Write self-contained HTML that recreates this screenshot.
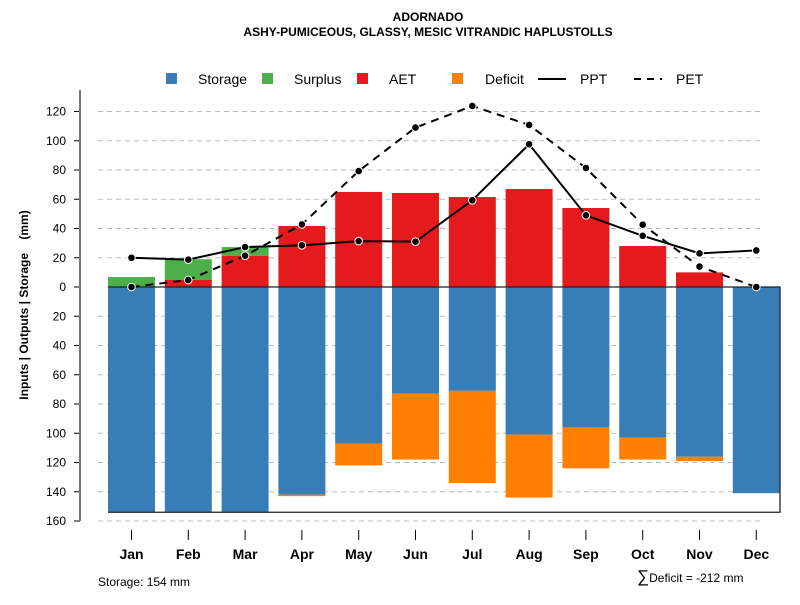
<!DOCTYPE html>
<html><head><meta charset="utf-8"><style>
body{margin:0;background:#fff;font-family:"Liberation Sans",sans-serif}
svg text{font-family:"Liberation Sans",sans-serif}
</style></head><body>
<svg id="c" width="800" height="600" xmlns="http://www.w3.org/2000/svg">
<text x="428" y="21" text-anchor="middle" font-size="12" font-weight="bold">ADORNADO</text>
<text x="428" y="36" text-anchor="middle" font-size="12" font-weight="bold">ASHY-PUMICEOUS, GLASSY, MESIC VITRANDIC HAPLUSTOLLS</text>
<text transform="translate(28,305) rotate(-90)" text-anchor="middle" font-size="12" font-weight="bold" style="white-space:pre">Inputs | Outputs | Storage    (mm)</text>
<g font-size="14">
<g><rect x="166" y="73" width="11" height="11" fill="#377eb8"/><text x="198" y="84">Storage</text></g>
<g><rect x="262" y="73" width="11" height="11" fill="#4daf4a"/><text x="294" y="84">Surplus</text></g>
<g><rect x="357" y="73" width="11" height="11" fill="#e41a1c"/><text x="389" y="84">AET</text></g>
<g><rect x="452" y="73" width="11" height="11" fill="#ff7f00"/><text x="485" y="84">Deficit</text></g>
<g><line x1="538" y1="79" x2="566" y2="79" stroke="#000" stroke-width="2"/><text x="580" y="84">PPT</text></g>
<g><line x1="634" y1="79" x2="662" y2="79" stroke="#000" stroke-width="2" stroke-dasharray="7,6"/><text x="676" y="84">PET</text></g>
</g>
<g id="grid"></g><g id="bars"></g><g id="axes"></g><g id="lines"></g>
<text x="98" y="586" font-size="12">Storage: 154 mm</text>
<text x="637" y="582" font-size="12"><tspan font-size="17">∑</tspan>Deficit = -212 mm</text>
</svg>
<script>
const months=["Jan","Feb","Mar","Apr","May","Jun","Jul","Aug","Sep","Oct","Nov","Dec"];
const storage=[154,154,154,142,107,73,71,101,96,103,116,141];
const deficit=[0,0,0,1,15,45,63,43,28,15,3,0];
const aet=[0,4.8,21.4,41.7,65,64.3,61.5,67,54,28,10,0];
const surplus=[6.8,14.2,5.9,0,0,0,0,0,0,0,0,0];
const ppt=[20,18.7,27.3,28.5,31.4,31,59.3,97.6,49,35,23,25];
const pet=[0,4.8,21.4,42.8,79.3,109,123.8,110.8,81.4,42.6,14,0];
const yTicks=[120,100,80,60,40,20,0,-20,-40,-60,-80,-100,-120,-140,-160];
const NS="http://www.w3.org/2000/svg";
const Y=v=>287-v*1.4625, X=i=>131.5+i*56.8, BW=47;
function mk(p,t,a){const e=document.createElementNS(NS,t);for(const k in a)e.setAttribute(k,a[k]);document.getElementById(p).appendChild(e);return e;}
yTicks.forEach(t=>{
 if(t!==0){const g=mk('grid','line',{x1:98,x2:762,y1:Y(t),y2:Y(t),stroke:'#bbb','stroke-dasharray':'5,4'});
 
 }
 const tk=mk('axes','line',{x1:74,x2:80,y1:Y(t),y2:Y(t),stroke:'#000'});
 
 
 const tl=mk('axes','text',{x:66,y:Y(t)+4,'text-anchor':'end','font-size':12});
 tl.textContent=Math.abs(t);
 
 
});
const ya=mk('axes','line',{x1:80,x2:80,y1:90,y2:Y(-160),stroke:'#777','stroke-width':2});


months.forEach((m,i)=>{
 const x=X(i)-BW/2;
 const r1=mk('bars','rect',{x:x,y:Y(0),width:BW,height:Y(-storage[i])-Y(0),fill:'#377eb8'});
 
 
 if(deficit[i]>0){const r=mk('bars','rect',{x:x,y:Y(-storage[i]),width:BW,height:Y(-storage[i]-deficit[i])-Y(-storage[i]),fill:'#ff7f00'});
 
 }
 if(aet[i]>0){const r=mk('bars','rect',{x:x,y:Y(aet[i]),width:BW,height:Y(0)-Y(aet[i]),fill:'#e41a1c'});
 
 }
 if(surplus[i]>0){const r=mk('bars','rect',{x:x,y:Y(aet[i]+surplus[i]),width:BW,height:Y(aet[i])-Y(aet[i]+surplus[i]),fill:'#4daf4a'});
 
 }
 const t=mk('axes','line',{x1:X(i),x2:X(i),y1:530,y2:540,stroke:'#000'});
 
 
 const l=mk('axes','text',{x:X(i),y:559,'text-anchor':'middle','font-size':14,'font-weight':'bold'});
 l.textContent=m;
 
 
});
const ob=mk('bars','path',{d:`M${X(0)-BW/2},${Y(0)} L780,${Y(0)} L780,${Y(-154)} L${X(0)-BW/2},${Y(-154)}`,fill:'none',stroke:'#222','stroke-width':1.3});


function series(vals,dash,name){
 const p=mk('lines','polyline',{points:vals.map((v,i)=>X(i)+','+Y(v)).join(' '),fill:'none',stroke:'#000','stroke-width':2,'stroke-dasharray':dash});
 
 
 vals.forEach((v,i)=>{const c=mk('lines','circle',{cx:X(i),cy:Y(v),r:3.8,fill:'#000',stroke:'#fff','stroke-width':1});
 
 });
}
series(pet,'8,6','pet');
series(ppt,'none','ppt');
</script>
</body></html>
